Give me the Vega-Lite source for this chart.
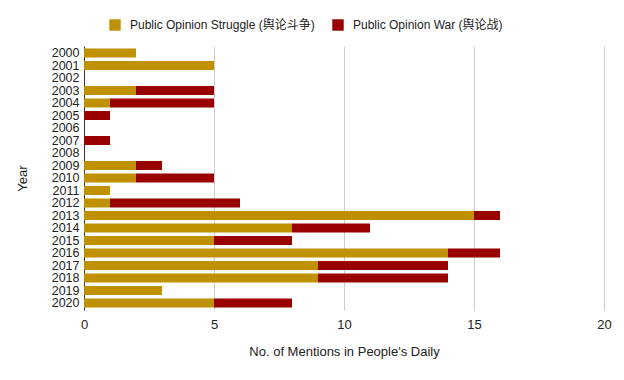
{
  "$schema": "https://vega.github.io/schema/vega-lite/v6.json",
  "width": 520,
  "height": 264,
  "autosize": {"type": "none"},
  "padding": {"left": 84, "top": 46, "right": 20, "bottom": 70},
  "background": "white",
  "config": {
    "font": "Liberation Sans, Noto Sans CJK SC",
    "view": {"stroke": null}
  },
  "data": {
    "values": [
      {"year": "2000", "type": "Public Opinion Struggle (舆论斗争)", "count": 2},
      {"year": "2000", "type": "Public Opinion War (舆论战)", "count": 0},
      {"year": "2001", "type": "Public Opinion Struggle (舆论斗争)", "count": 5},
      {"year": "2001", "type": "Public Opinion War (舆论战)", "count": 0},
      {"year": "2002", "type": "Public Opinion Struggle (舆论斗争)", "count": 0},
      {"year": "2002", "type": "Public Opinion War (舆论战)", "count": 0},
      {"year": "2003", "type": "Public Opinion Struggle (舆论斗争)", "count": 2},
      {"year": "2003", "type": "Public Opinion War (舆论战)", "count": 3},
      {"year": "2004", "type": "Public Opinion Struggle (舆论斗争)", "count": 1},
      {"year": "2004", "type": "Public Opinion War (舆论战)", "count": 4},
      {"year": "2005", "type": "Public Opinion Struggle (舆论斗争)", "count": 0},
      {"year": "2005", "type": "Public Opinion War (舆论战)", "count": 1},
      {"year": "2006", "type": "Public Opinion Struggle (舆论斗争)", "count": 0},
      {"year": "2006", "type": "Public Opinion War (舆论战)", "count": 0},
      {"year": "2007", "type": "Public Opinion Struggle (舆论斗争)", "count": 0},
      {"year": "2007", "type": "Public Opinion War (舆论战)", "count": 1},
      {"year": "2008", "type": "Public Opinion Struggle (舆论斗争)", "count": 0},
      {"year": "2008", "type": "Public Opinion War (舆论战)", "count": 0},
      {"year": "2009", "type": "Public Opinion Struggle (舆论斗争)", "count": 2},
      {"year": "2009", "type": "Public Opinion War (舆论战)", "count": 1},
      {"year": "2010", "type": "Public Opinion Struggle (舆论斗争)", "count": 2},
      {"year": "2010", "type": "Public Opinion War (舆论战)", "count": 3},
      {"year": "2011", "type": "Public Opinion Struggle (舆论斗争)", "count": 1},
      {"year": "2011", "type": "Public Opinion War (舆论战)", "count": 0},
      {"year": "2012", "type": "Public Opinion Struggle (舆论斗争)", "count": 1},
      {"year": "2012", "type": "Public Opinion War (舆论战)", "count": 5},
      {"year": "2013", "type": "Public Opinion Struggle (舆论斗争)", "count": 15},
      {"year": "2013", "type": "Public Opinion War (舆论战)", "count": 1},
      {"year": "2014", "type": "Public Opinion Struggle (舆论斗争)", "count": 8},
      {"year": "2014", "type": "Public Opinion War (舆论战)", "count": 3},
      {"year": "2015", "type": "Public Opinion Struggle (舆论斗争)", "count": 5},
      {"year": "2015", "type": "Public Opinion War (舆论战)", "count": 3},
      {"year": "2016", "type": "Public Opinion Struggle (舆论斗争)", "count": 14},
      {"year": "2016", "type": "Public Opinion War (舆论战)", "count": 2},
      {"year": "2017", "type": "Public Opinion Struggle (舆论斗争)", "count": 9},
      {"year": "2017", "type": "Public Opinion War (舆论战)", "count": 5},
      {"year": "2018", "type": "Public Opinion Struggle (舆论斗争)", "count": 9},
      {"year": "2018", "type": "Public Opinion War (舆论战)", "count": 5},
      {"year": "2019", "type": "Public Opinion Struggle (舆论斗争)", "count": 3},
      {"year": "2019", "type": "Public Opinion War (舆论战)", "count": 0},
      {"year": "2020", "type": "Public Opinion Struggle (舆论斗争)", "count": 5},
      {"year": "2020", "type": "Public Opinion War (舆论战)", "count": 3}
    ]
  },
  "mark": {"type": "bar"},
  "encoding": {
    "y": {
      "field": "year",
      "type": "nominal",
      "scale": {"paddingInner": 0.28, "paddingOuter": 0.2},
      "axis": {
        "title": "Year",
        "titleFont": "Liberation Sans",
        "titleFontSize": 13,
        "titleFontWeight": "normal",
        "titleColor": "#222",
        "titlePadding": 22,
        "labelFont": "Liberation Sans",
        "labelFontSize": 12.5,
        "labelColor": "#222",
        "labelPadding": 5,
        "ticks": false,
        "domainColor": "#333",
        "domainWidth": 1,
        "grid": false
      }
    },
    "x": {
      "field": "count",
      "type": "quantitative",
      "stack": "zero",
      "scale": {"domain": [0, 20], "nice": false},
      "axis": {
        "title": "No. of Mentions in People's Daily",
        "titleFont": "Liberation Sans",
        "titleFontSize": 13,
        "titleFontWeight": "normal",
        "titleColor": "#222",
        "titlePadding": 14,
        "values": [0, 5, 10, 15, 20],
        "labelFont": "Liberation Sans",
        "labelFontSize": 13,
        "labelColor": "#222",
        "labelPadding": 8,
        "labelFlush": false,
        "ticks": false,
        "domain": false,
        "grid": true,
        "gridColor": "#cccccc",
        "gridWidth": 1
      }
    },
    "color": {
      "field": "type",
      "type": "nominal",
      "scale": {
        "domain": ["Public Opinion Struggle (舆论斗争)", "Public Opinion War (舆论战)"],
        "range": ["#bf9000", "#990000"]
      },
      "legend": {
        "title": null,
        "orient": "none",
        "direction": "horizontal",
        "legendX": 25,
        "legendY": -27,
        "symbolType": "square",
        "symbolSize": 130,
        "symbolStrokeWidth": 0,
        "labelFont": "Liberation Sans, Noto Sans CJK SC",
        "labelFontSize": 12,
        "labelColor": "#222",
        "labelLimit": 0,
        "labelOffset": 9,
        "columnPadding": 17
      }
    }
  }
}
